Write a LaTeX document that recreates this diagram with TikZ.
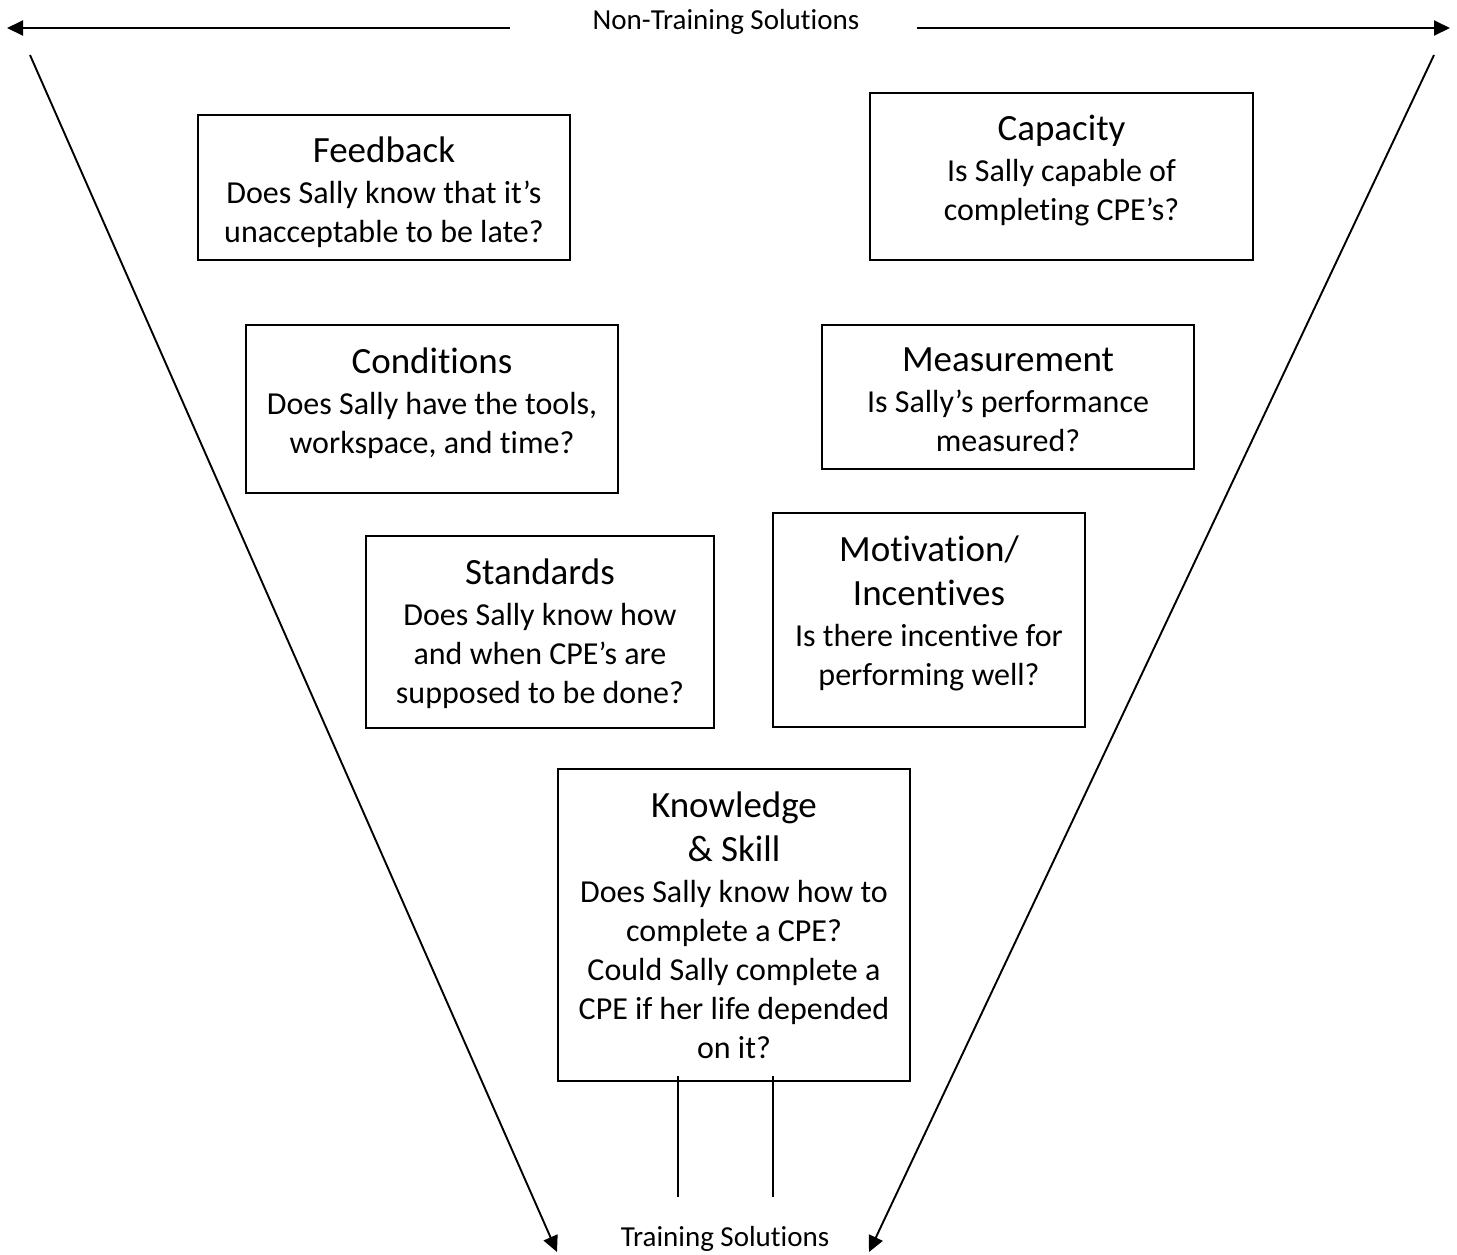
\documentclass[tikz,border=0pt]{standalone}
\usepackage{fontspec}
\setmainfont[Ligatures=NoCommon]{Carlito}
\usetikzlibrary{arrows.meta}
\newcommand{\ttlfont}{\fontsize{37}{45}\selectfont}
\tikzset{
  box/.style={draw, line width=1.8pt, rectangle, inner sep=0pt},
  boxtext/.style={anchor=north, align=center, inner sep=0pt,
    font=\fontsize{32}{39}\selectfont},
  axis/.style={line width=1.9pt, -{Triangle[length=16pt,width=15pt]}},
  plain/.style={line width=1.9pt},
  caption/.style={font=\fontsize{29}{34}\selectfont, inner sep=0pt}
}
\newcommand{\boxat}[5]{% name, x1, y1, x2, y2
  \node[box, minimum width={#4-#2}, minimum height={#5-#3}]
    (#1) at ({(#2+#4)/2},{(#3+#5)/2}) {};}
\begin{document}
\begin{tikzpicture}[x=1pt,y=-1pt]
\useasboundingbox (0,0) rectangle (1457,1254);

% boxes
\boxat{fb}{198}{115}{570}{260}
\boxat{cap}{870}{93}{1253}{260}
\boxat{cond}{246}{325}{618}{493}
\boxat{meas}{822}{325}{1194}{469}
\boxat{std}{366}{536}{714}{728}
\boxat{mot}{773}{513}{1085}{727}
\boxat{ks}{558}{769}{910}{1081}

% box texts
\node[boxtext] (fbt) at ([yshift=-23pt]fb.north)
  {{\ttlfont Feedback}\\[2pt]Does Sally know that it’s\\unacceptable to be late?};
\node[boxtext] (capt) at ([yshift=-23pt]cap.north)
  {{\ttlfont Capacity}\\[2pt]Is Sally capable of\\completing CPE’s?};
\node[boxtext] (condt) at ([yshift=-23pt]cond.north)
  {{\ttlfont Conditions}\\[2pt]Does Sally have the tools,\\workspace, and time?};
\node[boxtext] (meast) at ([yshift=-23pt]meas.north)
  {{\ttlfont Measurement}\\[2pt]Is Sally’s performance\\measured?};
\node[boxtext] (stdt) at ([yshift=-23pt]std.north)
  {{\ttlfont Standards}\\[2pt]Does Sally know how\\and when CPE’s are\\supposed to be done?};
\node[boxtext] (mott) at ([yshift=-23pt]mot.north)
  {{\ttlfont Motivation/}\\[5pt]{\ttlfont Incentives}\\[2pt]Is there incentive for\\performing well?};
\node[boxtext] (kst) at ([yshift=-23pt]ks.north)
  {{\ttlfont Knowledge}\\[5pt]{\ttlfont \& Skill}\\[2pt]Does Sally know how to\\complete a CPE?\\Could Sally complete a\\CPE if her life depended\\on it?};

% top axis
\node[caption] (nts) at (726,22) {Non-Training Solutions};
\coordinate (tl0) at (510,28);
\coordinate (tl1) at (7,28);
\coordinate (tr0) at (917,28);
\coordinate (tr1) at (1450,28);
\draw[axis] (tl0) -- (tl1);
\draw[axis] (tr0) -- (tr1);

% funnel sides
\node[caption] (ts) at (725,1239) {Training Solutions};
\coordinate (l0) at (30,55);
\coordinate (l1) at (557,1252);
\coordinate (r0) at (1434,55);
\coordinate (r1) at (869,1252);
\draw[axis] (l0) -- (l1);
\draw[axis] (r0) -- (r1);

% stem below the last box
\coordinate (s0a) at (678,1076);
\coordinate (s0b) at (773,1076);
\coordinate (s1a) at (678,1197);
\coordinate (s1b) at (773,1197);
\draw[plain] (s0a) -- (s1a);
\draw[plain] (s0b) -- (s1b);
\end{tikzpicture}
\end{document}
